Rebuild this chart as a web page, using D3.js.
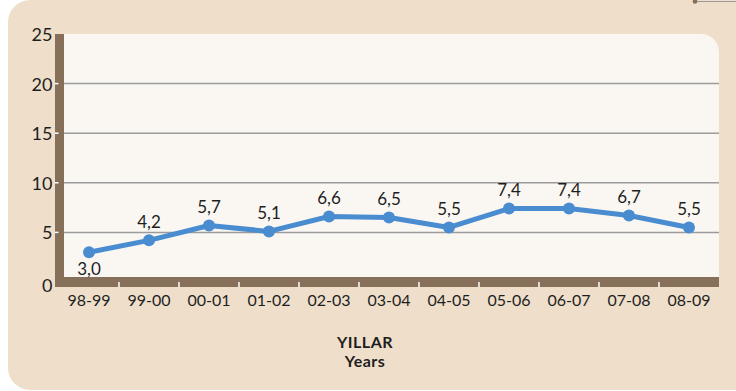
<!DOCTYPE html>
<html>
<head>
<meta charset="utf-8">
<script src="https://cdn.jsdelivr.net/npm/d3@7"></script>
<style>
  body { margin: 0; background: #fff; }
  svg { display: block; }
  text { font-family: Lato, "Open Sans", sans-serif; fill: #1e1e1e; }
</style>
</head>
<body>
<svg></svg>
<script>
var width = 736;
var height = 391;

// data
var years = ["98-99","99-00","00-01","01-02","02-03","03-04","04-05","05-06","06-07","07-08","08-09"];
var values = [3.0, 4.2, 5.7, 5.1, 6.6, 6.5, 5.5, 7.4, 7.4, 6.7, 5.5];
var yTicks = [0, 5, 10, 15, 20, 25];
var axisTitle = ["YILLAR", "Years"];

var beige = "#efdfca";
var cream = "#faf7f2";
var brown = "#86705a";
var blue = "#4a8cd0";

var plot = { left: 64, right: 719, top: 34, bottom: 277 };

var svg = d3.select("svg")
  .attr("width", width)
  .attr("height", height);

// outer panel
svg.append("rect")
  .attr("x", 8).attr("y", 0)
  .attr("width", 800).attr("height", 390)
  .attr("rx", 22)
  .attr("fill", beige);

// little line top right
svg.append("line")
  .attr("x1", 695).attr("x2", 736)
  .attr("y1", 1.5).attr("y2", 1.5)
  .attr("stroke", "#9a9a9a").attr("stroke-width", 1);
svg.append("circle")
  .attr("cx", 695).attr("cy", 1.5).attr("r", 2.3)
  .attr("fill", brown);

var x = d3.scaleBand()
  .domain(years)
  .range([59, 719]);

var y = d3.scaleLinear()
  .domain([0, 25])
  .range([282, 34]);

// plot area, top right corner rounded
var r = 18;
svg.append("path")
  .attr("d", "M" + plot.left + "," + plot.top +
    "H" + (plot.right - r) +
    "A" + r + "," + r + " 0 0 1 " + plot.right + "," + (plot.top + r) +
    "V" + plot.bottom + "H" + plot.left + "Z")
  .attr("fill", cream);

// grid
svg.append("g")
  .selectAll("line")
  .data(yTicks.filter(function (d) { return d > 0 && d < 25; }))
  .join("line")
  .attr("x1", plot.left).attr("x2", plot.right)
  .attr("y1", function (d) { return y(d); })
  .attr("y2", function (d) { return y(d); })
  .attr("stroke", "#9b9b9b")
  .attr("stroke-width", 1.5);

// axis bars
svg.append("rect")
  .attr("x", 55).attr("y", plot.top)
  .attr("width", plot.left - 55).attr("height", 287 - plot.top)
  .attr("fill", brown);
svg.append("rect")
  .attr("x", 55).attr("y", 277)
  .attr("width", plot.right - 55).attr("height", 10)
  .attr("fill", brown);

// y ticks and labels
var yAxis = svg.append("g");
yAxis.selectAll("line")
  .data(yTicks.filter(function (d) { return d > 0 && d < 25; }))
  .join("line")
  .attr("x1", 55).attr("x2", 58.5)
  .attr("y1", function (d) { return y(d); })
  .attr("y2", function (d) { return y(d); })
  .attr("stroke", "#fff").attr("stroke-width", 1.5);
yAxis.selectAll("text")
  .data(yTicks)
  .join("text")
  .attr("x", 52.5)
  .attr("y", function (d) { return y(d) + (d == 0 ? 9.5 : 7); })
  .attr("text-anchor", "end")
  .style("font-size", "18px")
  .text(function (d) { return d; });

// x ticks between categories
var xAxis = svg.append("g");
xAxis.selectAll("line")
  .data(years.slice(1))
  .join("line")
  .attr("x1", function (d) { return x(d); })
  .attr("x2", function (d) { return x(d); })
  .attr("y1", 282).attr("y2", 287)
  .attr("stroke", "#fff").attr("stroke-width", 1.5);
xAxis.selectAll("text")
  .data(years)
  .join("text")
  .attr("x", function (d) { return x(d) + x.bandwidth() / 2; })
  .attr("y", 305.5)
  .attr("text-anchor", "middle")
  .style("font-size", "16px")
  .text(function (d) { return d; });

// axis title
svg.append("g")
  .selectAll("text")
  .data(axisTitle)
  .join("text")
  .attr("x", 365)
  .attr("y", function (d, i) { return 348 + i * 19; })
  .attr("text-anchor", "middle")
  .style("font-size", "16px")
  .style("font-weight", "bold")
  .style("letter-spacing", "0.5px")
  .text(function (d) { return d; });

// line + points
var cx = function (d, i) { return x(years[i]) + x.bandwidth() / 2; };

var line = d3.line()
  .x(cx)
  .y(function (d) { return y(d); });

svg.append("path")
  .datum(values)
  .attr("d", line)
  .attr("fill", "none")
  .attr("stroke", blue)
  .attr("stroke-width", 5)
  .attr("stroke-linejoin", "round");

svg.append("g")
  .selectAll("circle")
  .data(values)
  .join("circle")
  .attr("cx", cx)
  .attr("cy", function (d) { return y(d); })
  .attr("r", 6)
  .attr("fill", blue);

// value labels, first one sits under the point
svg.append("g")
  .selectAll("text")
  .data(values)
  .join("text")
  .attr("x", cx)
  .attr("y", function (d, i) { return i == 0 ? y(d) + 23 : y(d) - 12.5; })
  .attr("text-anchor", "middle")
  .style("font-size", "17px")
  .text(function (d) { return d3.format(".1f")(d).replace(".", ","); });
</script>
</body>
</html>
